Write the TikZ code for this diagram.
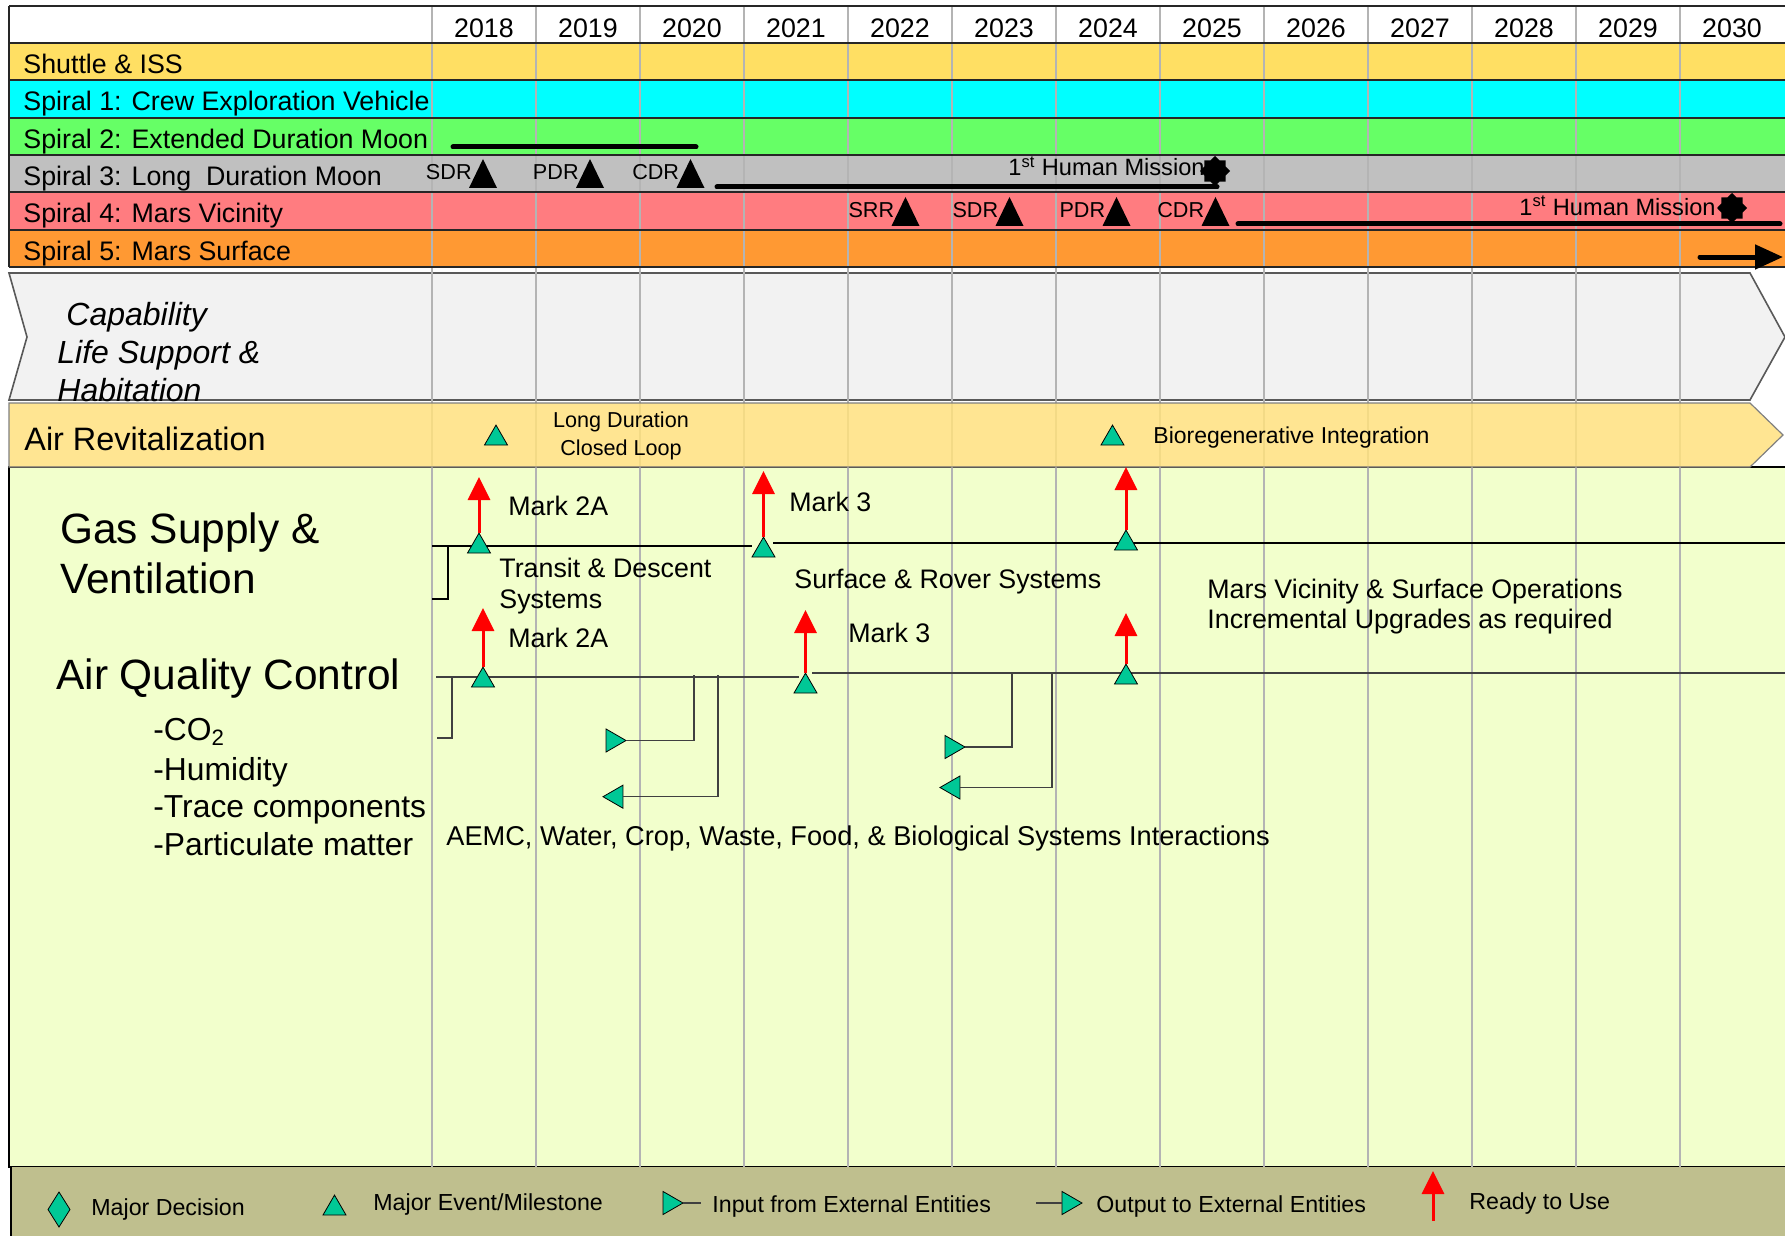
\documentclass[tikz,border=0pt]{standalone}
\usepackage{fontspec}
\setmainfont{Liberation Sans}
\usetikzlibrary{arrows.meta,shapes.geometric}

\definecolor{issyellow}{HTML}{FFDF63}
\definecolor{cevcyan}{HTML}{00FFFF}
\definecolor{moongreen}{HTML}{66FF66}
\definecolor{moongray}{HTML}{C0C0C0}
\definecolor{marspink}{HTML}{FF7C80}
\definecolor{marsorange}{HTML}{FF9933}
\definecolor{capgray}{HTML}{F2F2F2}
\definecolor{airband}{HTML}{FFE17F}
\definecolor{paleback}{HTML}{F2FFCC}
\definecolor{legendbg}{HTML}{BFBF8E}
\definecolor{msgreen}{HTML}{00C896}
\definecolor{gridgray}{HTML}{B4B4B4}

\newcommand\fsz[1]{\fontsize{#1}{#1}\selectfont}

\begin{document}
\begin{tikzpicture}[x=0.5pt, y=-0.5pt,
    txt/.style={inner sep=0pt, font=\fsz{13.4}},
    small/.style={inner sep=0pt, font=\fsz{11.6}},
    milestone/.style={regular polygon, regular polygon sides=3, fill=msgreen,
      draw=black, line width=0.4pt, minimum size=13.3pt, inner sep=0pt, outer sep=0pt},
    inflow/.style={milestone, shape border rotate=-90},
    outflow/.style={milestone, shape border rotate=90},
    ready/.style={red, line width=1.5pt, -{Triangle[width=11pt,length=11.5pt]}},
    flow/.style={draw=black!75, line width=0.6pt},
    bar/.style={line width=2.5pt, line cap=round},
    review/.pic={\fill (-14,0) -- (14,0) -- (0,-29) -- cycle;}]
  \useasboundingbox (0,0) rectangle (1785,1236);

  % spiral rows
  \foreach \c/\t/\lab [count=\i] in {issyellow/43/{Shuttle \& ISS},
      cevcyan/80.3/{Spiral 1: Crew Exploration Vehicle},
      moongreen/117.7/{Spiral 2: Extended Duration Moon},
      moongray/155/{Spiral 3: Long\ \ Duration Moon},
      marspink/192.3/{Spiral 4: Mars Vicinity},
      marsorange/229.7/{Spiral 5: Mars Surface}} {
    \fill[\c] (9,\t) rectangle (1785,\t+37.4);
    \node[txt, anchor=base west] (spiral\i) at (23,\t+30.5) {\lab};
  }

  % capability chevron, work area and legend strip
  \filldraw[fill=capgray, draw=black!65, line width=0.8pt]
    (9,273) -- (1750,273) -- (1785,337) -- (1750,400) -- (9,400) -- (27,337) -- cycle;
  \fill[paleback] (9,467) rectangle (1785,1167);
  \draw[line width=0.6pt] (1785,467) -- (9,467) -- (9,1167) -- (1785,1167);
  \fill[legendbg] (11,1167) rectangle (1785,1236);
  \draw[line width=0.6pt] (11,1236) -- (11,1167);

  % year grid
  \foreach \k in {0,...,12}
    \draw[gridgray, line width=1pt] (432+104*\k,6) -- (432+104*\k,1167);
  \foreach \yr [count=\k from 0] in {2018,...,2030}
    \node[txt, anchor=base] (y\yr) at (484+104*\k,37.5) {\yr};

  \foreach \t in {6,43,80.3,117.7,155,192.3,229.7,267}
    \draw[black!85, line width=0.9pt] (9,\t) -- (1785,\t);
  \draw[black!85, line width=0.9pt] (9,6) -- (9,267);

  % reviews and missions
  \draw[bar] (453,147) -- (696,147);
  \foreach \x/\r in {483/SDR,590/PDR,690.5/CDR} {
    \pic at (\x,188) {review};
    \node[inner sep=0pt, font=\fsz{10.8}, anchor=base east] (s3\r) at (\x-11,180) {\r};
  }
  \draw[bar] (717,187) -- (1217,187);
  \node[star, star points=8, star point ratio=1.3, fill=black, minimum size=15pt, inner sep=0pt] (hm3) at (1215,171) {};
  \node[inner sep=0pt, font=\fsz{11.8}, anchor=base west] (hm3lbl) at (1008,176) {1\textsuperscript{st} Human Mission};

  \foreach \x/\r in {905.5/SRR,1009.5/SDR,1116.5/PDR,1215.5/CDR} {
    \pic at (\x,226) {review};
    \node[inner sep=0pt, font=\fsz{10.8}, anchor=base east] (s4\r) at (\x-11,218) {\r};
  }
  \draw[bar] (1238,224) -- (1780,224);
  \node[star, star points=8, star point ratio=1.3, fill=black, minimum size=15pt, inner sep=0pt] (hm4) at (1732,208) {};
  \node[inner sep=0pt, font=\fsz{11.8}, anchor=base west] (hm4lbl) at (1519,215) {1\textsuperscript{st} Human Mission};

  \draw[bar, -{Triangle[width=12pt,length=14pt]}] (1700,257) -- (1783,257);

  % capability heading
  \node[inner sep=0pt, font=\fsz{16}\itshape, anchor=base west] (cap1) at (66,325) {Capability};
  \node[inner sep=0pt, font=\fsz{16}\itshape, anchor=base west] (cap2) at (57,363) {Life Support \&};
  \node[inner sep=0pt, font=\fsz{16}\itshape, anchor=base west] (cap3) at (57,401) {Habitation};

  % air revitalization band
  \filldraw[fill=airband, fill opacity=0.85, draw=black!50, line width=0.6pt]
    (9,403) -- (1750,403) -- (1783,435) -- (1750,467) -- (9,467) -- cycle;
  \node[inner sep=0pt, font=\fsz{16.2}, anchor=base west] (airrev) at (24,450) {Air Revitalization};
  \node[milestone] (ar1) at (496,438.4) {};
  \node[milestone] (ar2) at (1112.5,438.4) {};
  \node[inner sep=0pt, font=\fsz{10.8}, anchor=base] (ld1) at (621,427) {Long Duration};
  \node[inner sep=0pt, font=\fsz{10.8}, anchor=base] (ld2) at (621,455) {Closed Loop};
  \node[inner sep=0pt, font=\fsz{11.5}, anchor=base west] (bio) at (1153,443) {Bioregenerative Integration};

  % gas supply & ventilation
  \node[inner sep=0pt, font=\fsz{21.2}, anchor=base west] (gas1) at (60,543) {Gas Supply \&};
  \node[inner sep=0pt, font=\fsz{21.2}, anchor=base west] (gas2) at (60,593) {Ventilation};
  \draw[line width=0.7pt] (432,546) -- (752,546);
  \draw[line width=0.7pt] (773,543) -- (1785,543);
  \draw[line width=0.6pt] (432,599) -- (448,599) -- (448,547);
  \node[milestone] (gs1) at (479,546.4) {};
  \node[milestone] (gs2) at (763.5,550.4) {};
  \node[milestone] (gs3) at (1126,543.4) {};
  \coordinate (gs1up) at (479,477);
  \coordinate (gs2up) at (763.5,471);
  \coordinate (gs3up) at (1126,467);
  \draw[ready] (gs1.corner 1) -- (gs1up);
  \draw[ready] (gs2.corner 1) -- (gs2up);
  \draw[ready] (gs3.corner 1) -- (gs3up);
  \node[txt, anchor=base west] (mk1) at (508,515) {Mark 2A};
  \node[txt, anchor=base west] (mk2) at (789,511) {Mark 3};
  \node[txt, anchor=base west] (tr1) at (499,577) {Transit \& Descent};
  \node[txt, anchor=base west] (tr2) at (499,608) {Systems};
  \node[txt, anchor=base west] (surf) at (794,588) {Surface \& Rover Systems};
  \node[txt, anchor=base west] (mv1) at (1207,598) {Mars Vicinity \& Surface Operations};
  \node[txt, anchor=base west] (mv2) at (1207,628) {Incremental Upgrades as required};

  % air quality control
  \node[inner sep=0pt, font=\fsz{21.2}, anchor=base west] (aqc) at (56,689) {Air Quality Control};
  \foreach \y/\item [count=\i] in {740/-CO\textsubscript{2},780/-Humidity,817/-Trace components,855/-Particulate matter}
    \node[inner sep=0pt, font=\fsz{15.9}, anchor=base west] (aqi\i) at (153,\y) {\item};
  \draw[black!75, line width=1pt] (436,677) -- (799,677);
  \draw[black!75, line width=0.8pt] (812,673) -- (1785,673);
  \draw[black!75, line width=0.6pt] (437,738) -- (452,738) -- (452,677);
  \coordinate (v1) at (694,675);
  \coordinate (v2) at (718,675);
  \coordinate (v3) at (1012,673);
  \coordinate (v4) at (1052,673);
  \node[inflow] (in1) at (612.7,740.5) {};
  \node[outflow] (out1) at (616.3,796.7) {};
  \node[inflow] (in2) at (951.7,747) {};
  \node[outflow] (out2) at (953.3,787.5) {};
  \draw[flow] (in1.east) -| (v1);
  \draw[flow] (out1.east) -| (v2);
  \draw[flow] (in2.east) -| (v3);
  \draw[flow] (out2.east) -| (v4);
  \node[milestone] (aq1) at (483,680.4) {};
  \node[milestone] (aq2) at (805.5,686.4) {};
  \node[milestone] (aq3) at (1126,677.4) {};
  \coordinate (aq1up) at (483,608);
  \coordinate (aq2up) at (805.5,610);
  \coordinate (aq3up) at (1126,613);
  \draw[ready] (aq1.corner 1) -- (aq1up);
  \draw[ready] (aq2.corner 1) -- (aq2up);
  \draw[ready] (aq3.corner 1) -- (aq3up);
  \node[txt, anchor=base west] (mk3) at (508,647) {Mark 2A};
  \node[txt, anchor=base west] (mk4) at (848,642) {Mark 3};
  \node[inner sep=0pt, font=\fsz{13.6}, anchor=base west] (aemc) at (446,845) {AEMC, Water, Crop, Waste, Food, \& Biological Systems Interactions};

  % legend
  \filldraw[fill=msgreen, draw=black, line width=0.4pt]
    (48,1209.5) -- (59,1192) -- (70,1209.5) -- (59,1227) -- cycle;
  \node[small, anchor=base west] (lgdec) at (91,1215) {Major Decision};
  \node[milestone] (lgms) at (334.5,1208.4) {};
  \node[small, anchor=base west] (lgmsl) at (373,1210) {Major Event/Milestone};
  \node[inflow] (lgin) at (669.7,1203) {};
  \coordinate (lgintail) at (701,1203);
  \draw[flow] (lgin.east) -- (lgintail);
  \node[small, anchor=base west] (lginl) at (712,1212) {Input from External Entities};
  \node[inflow] (lgout) at (1068.7,1203) {};
  \coordinate (lgouttail) at (1036,1203);
  \draw[flow] (lgouttail) -- (lgout.west);
  \node[small, anchor=base west] (lgoutl) at (1096,1212) {Output to External Entities};
  \coordinate (lgrdy) at (1433,1221);
  \coordinate (lgrdytip) at (1433,1171);
  \draw[ready] (lgrdy) -- (lgrdytip);
  \node[small, anchor=base west] (lgrdyl) at (1469,1209) {Ready to Use};
\end{tikzpicture}
\end{document}
